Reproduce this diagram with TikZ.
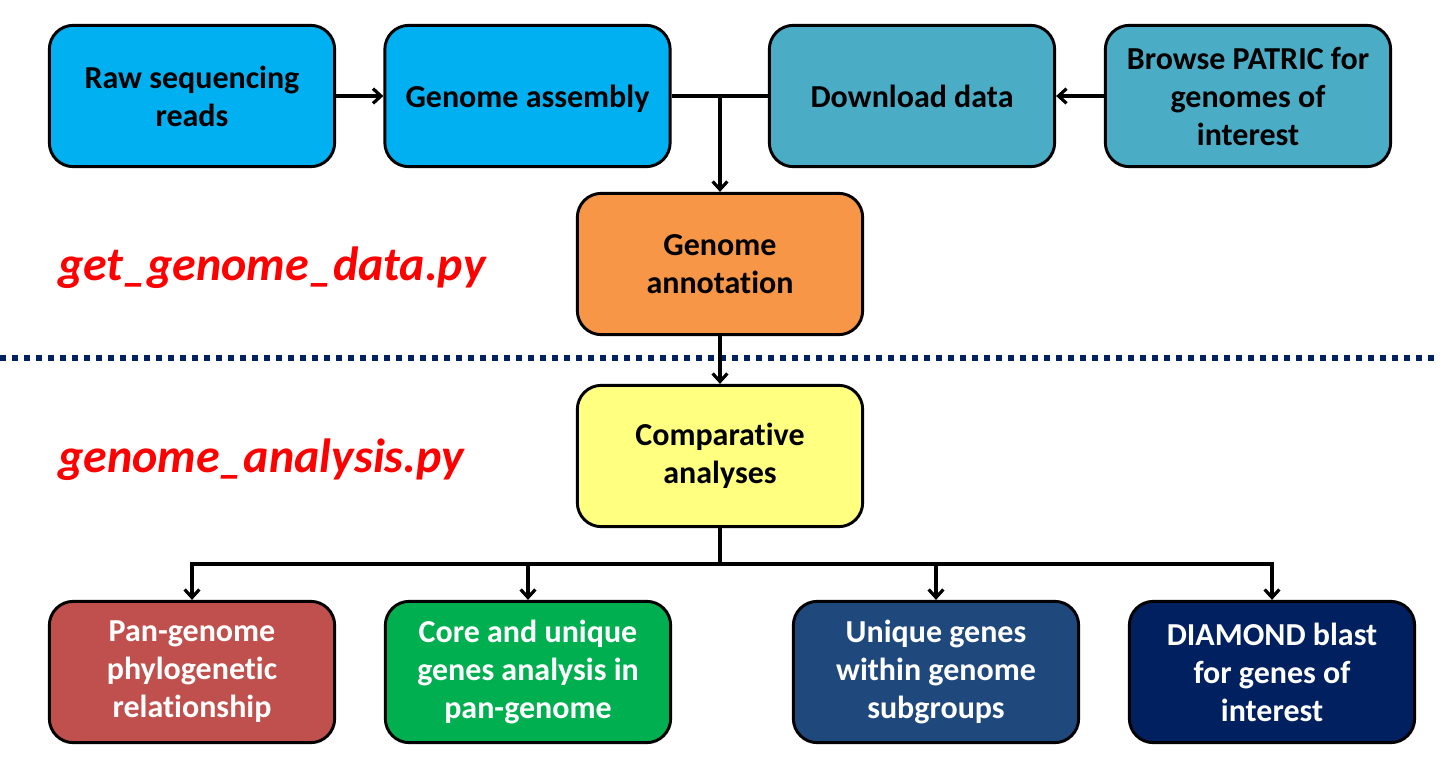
\documentclass[tikz,border=0pt]{standalone}
\usepackage{fontspec}
\setmainfont{Carlito}[Ligatures=NoCommon]
\usetikzlibrary{arrows.meta}
\definecolor{cblue}{HTML}{00B0F0}
\definecolor{cteal}{HTML}{4BACC6}
\definecolor{corange}{HTML}{F79646}
\definecolor{cyellow}{HTML}{FFFF80}
\definecolor{cred}{HTML}{C0504D}
\definecolor{cgreen}{HTML}{00B050}
\definecolor{cnavy}{HTML}{1F497D}
\definecolor{cdark}{HTML}{002060}
\definecolor{lblred}{HTML}{FF0000}
\begin{document}
\begin{tikzpicture}[x=0.75pt,y=-0.75pt,
  box/.style={draw=black, line width=2.2pt, rounded corners=18pt,
    minimum width=214pt, minimum height=106pt, align=center,
    font=\fontsize{24}{28.5}\selectfont\bfseries, inner sep=2pt},
  wbox/.style={box, text=white},
  conn/.style={line width=2.4pt, draw=black},
  arr/.style={conn, -{Straight Barb[length=6pt,width=11pt,line width=2.4pt]}},
  lbl/.style={text=lblred, font=\fontsize{36}{42}\selectfont\bfseries\itshape, anchor=west, inner sep=0pt}]
\useasboundingbox (0,0) rectangle (1440,768);
\node[box, fill=cblue] (raw) at (192,96) {Raw sequencing\\reads};
\node[box, fill=cblue, text depth=0pt] (ga) at (527.5,96) {Genome assembly};
\node[box, fill=cteal] (dd) at (912,96) {Download data};
\node[box, fill=cteal] (bp) at (1248,96) {Browse PATRIC for\\genomes of\\interest};
\node[box, fill=corange] (ann) at (720,264) {Genome\\annotation};
\node[box, fill=cyellow] (comp) at (720,456) {Comparative\\analyses};
\node[wbox, fill=cred] (pan) at (192,672) {Pan-genome\\phylogenetic\\relationship};
\node[wbox, fill=cgreen] (core) at (528,672) {Core and unique\\genes analysis in\\pan-genome};
\node[wbox, fill=cnavy] (uniq) at (936,672) {Unique genes\\within genome\\subgroups};
\node[wbox, fill=cdark] (diam) at (1272,672) {DIAMOND blast\\for genes of\\interest};
\node[lbl] (l1) at (58,268) {get\_genome\_data.py};
\node[lbl] (l2) at (58,460) {genome\_analysis.py};
\coordinate (dl) at (0,358);
\coordinate (dr) at (1440,358);
\draw[cdark, line width=4.5pt, dash pattern=on 4.5pt off 4.5pt] (dl) -- (dr);
\draw[arr] (raw.east) -- (ga.west);
\draw[arr] (bp.west) -- (dd.east);
\draw[conn] (ga.east) -- (dd.west);
\coordinate (j1) at (720,96);
\draw[arr] (j1) -- (ann.north);
\draw[arr] (ann.south) -- (comp.north);
\coordinate (j2) at (720,564);
\draw[conn] (comp.south) -- (j2);
\draw[arr] (j2) -| (pan.north);
\draw[arr] (j2) -| (core.north);
\draw[arr] (j2) -| (uniq.north);
\draw[arr] (j2) -| (diam.north);
\end{tikzpicture}
\end{document}
